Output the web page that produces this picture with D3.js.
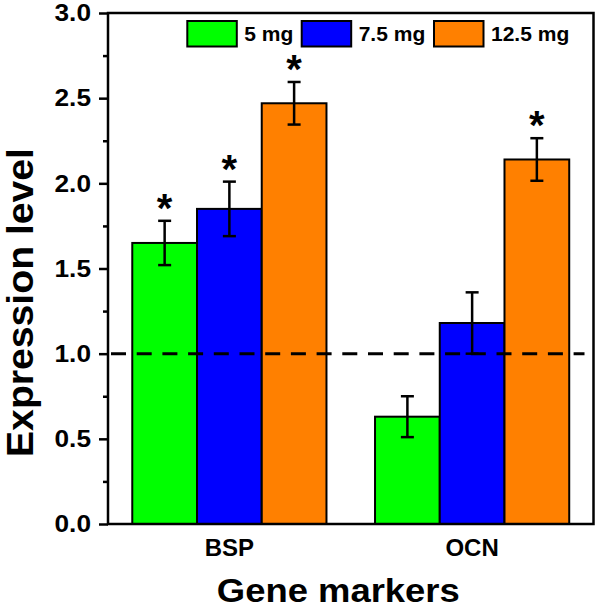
<!DOCTYPE html>
<html>
<head>
<meta charset="utf-8">
<script src="https://cdn.jsdelivr.net/npm/d3@7"></script>
<style>
  html, body { margin: 0; padding: 0; background: #fff; }
  text { font-family: "Liberation Sans", Arial, Helvetica, sans-serif; font-weight: bold; }
</style>
</head>
<body>
<svg id="chart" width="600" height="609"></svg>
<script>
// ---- data ----
const categories = ["BSP", "OCN"];
const seriesNames = ["5 mg", "7.5 mg", "12.5 mg"];
const seriesColors = ["#00ff00", "#0000ff", "#ff8000"];
const values5 = [1.65, 0.63];
const errors5 = [0.13, 0.12];
const values75 = [1.85, 1.18];
const errors75 = [0.16, 0.18];
const values125 = [2.47, 2.14];
const errors125 = [0.125, 0.125];
const signif5 = [true, false];
const signif75 = [true, false];
const signif125 = [true, true];
const yTicks = [0, 0.5, 1.0, 1.5, 2.0, 2.5, 3.0];
const yMinorTicks = [0.25, 0.75, 1.25, 1.75, 2.25, 2.75];
const referenceLevel = 1.0;
const xTitle = "Gene markers";
const yTitle = "Expression level";

const seriesValues = [values5, values75, values125];
const seriesErrors = [errors5, errors75, errors125];
const seriesSignif = [signif5, signif75, signif125];

const rows = [];
categories.forEach((c, ci) => {
  seriesNames.forEach((s, si) => {
    rows.push({ cat: c, series: s, value: seriesValues[si][ci], err: seriesErrors[si][ci], sig: seriesSignif[si][ci] });
  });
});

// ---- layout ----
const svg = d3.select("#chart");
const L = 108, R = 593.5, T = 13, B = 524;

const x0 = d3.scaleBand().domain(categories).range([L, R]).paddingInner(0.2).paddingOuter(0.1);
const x1 = d3.scaleBand().domain(seriesNames).range([0, x0.bandwidth()]).padding(0);
const y = d3.scaleLinear().domain([0, 3]).range([B, T]);
const color = d3.scaleOrdinal().domain(seriesNames).range(seriesColors);

// bars
const bars = svg.append("g");
bars.selectAll("rect").data(rows).join("rect")
  .attr("x", d => x0(d.cat) + x1(d.series))
  .attr("y", d => y(d.value))
  .attr("width", x1.bandwidth())
  .attr("height", d => y(0) - y(d.value))
  .attr("fill", d => color(d.series))
  .attr("stroke", "#000")
  .attr("stroke-width", 2);

// dashed reference line
svg.append("line")
  .attr("x1", L + 3).attr("x2", R - 9)
  .attr("y1", y(referenceLevel)).attr("y2", y(referenceLevel))
  .attr("stroke", "#000").attr("stroke-width", 3)
  .attr("stroke-dasharray", "15,10.7");

// error bars
const eb = svg.append("g").attr("stroke", "#000").attr("stroke-width", 2.5);
rows.forEach(d => {
  const cx = x0(d.cat) + x1(d.series) + x1.bandwidth() / 2;
  const y1 = y(d.value + d.err), y2 = y(d.value - d.err);
  eb.append("line").attr("x1", cx).attr("x2", cx).attr("y1", y1).attr("y2", y2);
  eb.append("line").attr("x1", cx - 6.5).attr("x2", cx + 6.5).attr("y1", y1).attr("y2", y1);
  eb.append("line").attr("x1", cx - 6.5).attr("x2", cx + 6.5).attr("y1", y2).attr("y2", y2);
});

// significance stars
svg.append("g").selectAll("text").data(rows.filter(d => d.sig)).join("text")
  .attr("x", d => x0(d.cat) + x1(d.series) + x1.bandwidth() / 2)
  .attr("y", d => y(d.value + d.err) + 1)
  .attr("text-anchor", "middle")
  .attr("font-size", 40)
  .text("*");

// y axis
const yAxis = d3.axisLeft(y).tickValues(yTicks).tickFormat(d3.format(".1f")).tickSize(9).tickPadding(8);
const gy = svg.append("g").attr("transform", `translate(${L},0)`).call(yAxis);
gy.select(".domain").remove();
gy.selectAll(".tick line").attr("stroke", "#000").attr("stroke-width", 2.5);
gy.selectAll(".tick text").attr("font-size", 24).attr("fill", "#000")
  .attr("textLength", 36.5).attr("lengthAdjust", "spacingAndGlyphs")
  .style("font-family", '"Liberation Sans", Arial, sans-serif').style("font-weight", "bold");
const yMinor = d3.axisLeft(y).tickValues(yMinorTicks).tickFormat("").tickSize(5);
const gym = svg.append("g").attr("transform", `translate(${L},0)`).call(yMinor);
gym.select(".domain").remove();
gym.selectAll(".tick line").attr("stroke", "#000").attr("stroke-width", 2.5);

// x axis
const xAxis = d3.axisBottom(x0).tickSize(0).tickPadding(15);
const gx = svg.append("g").attr("transform", `translate(0,${B})`).call(xAxis);
gx.select(".domain").remove();
gx.selectAll(".tick text").attr("font-size", 24).attr("fill", "#000")
  .style("font-family", '"Liberation Sans", Arial, sans-serif').style("font-weight", "bold");

// frame
svg.append("rect").attr("x", L).attr("y", T).attr("width", R - L).attr("height", B - T)
  .attr("fill", "none").attr("stroke", "#000").attr("stroke-width", 2.5);

// axis titles
svg.append("text").attr("x", 338.3).attr("y", 601.7).attr("text-anchor", "middle")
  .attr("font-size", 34).attr("textLength", 243).attr("lengthAdjust", "spacingAndGlyphs")
  .text(xTitle);
svg.append("text").attr("transform", "translate(33,302.5) rotate(-90)").attr("text-anchor", "middle")
  .attr("font-size", 37).attr("textLength", 309).attr("lengthAdjust", "spacingAndGlyphs")
  .text(yTitle);

// legend
const legendX = [187.3, 301.7, 434];
const lg = svg.append("g");
seriesNames.forEach((s, i) => {
  lg.append("rect").attr("x", legendX[i]).attr("y", 21).attr("width", 49.5).attr("height", 25.5)
    .attr("fill", color(s)).attr("stroke", "#000").attr("stroke-width", 2);
  lg.append("text").attr("x", legendX[i] + 57).attr("y", 41).attr("font-size", 21).text(s);
});
</script>
</body>
</html>
